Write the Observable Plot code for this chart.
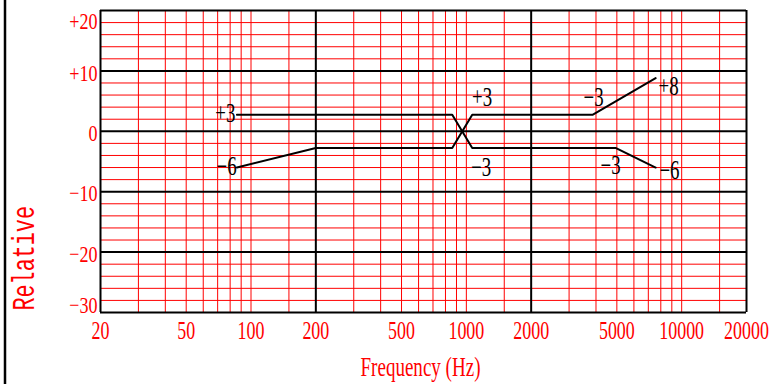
<!DOCTYPE html>
<html><head><meta charset="utf-8">
<script src="https://cdn.jsdelivr.net/npm/d3@7"></script>
<script src="https://cdn.jsdelivr.net/npm/@observablehq/plot@0.6"></script>
<style>body{margin:0;background:#fff}#chart svg{display:block;overflow:visible}</style>
</head><body><div id="chart"></div>
<script>
// grid values
const xMinorGrid = [30,40,50,60,70,80,90,100,150,300,400,500,600,700,800,900,1000,1500,3000,4000,5000,6000,7000,8000,9000,10000,15000];
const xMajorGrid = [20,200,2000,20000];
const xTicks = [20,50,100,200,500,1000,2000,5000,10000,20000];
const yMinorGrid = [18,16,14,12,8,6,4,2,-2,-4,-6,-8,-12,-14,-16,-18,-22,-24,-26,-28];
const yMajorGrid = [20,10,0,-10,-20,-30];
const yTicks = [20,10,0,-10,-20,-30];
// curves
const curveAFreq = [86, 860, 1065, 4930, 7570];
const curveADb = [2.75, 2.75, -2.75, -2.75, -6];
const curveBFreq = [86, 200, 860, 1065, 3870, 7570];
const curveBDb = [-6, -2.75, -2.75, 2.75, 2.75, 8.8];
// annotations
const noteText = ["+3","\u22126","+3","\u22123","\u22123","+8","\u22123","\u22126"];
const noteFreq = [76, 77, 1184, 1170, 3900, 8694, 4676, 8780];
const noteDb = [3, -5.75, 5.7, -5.9, 5.7, 7.4, -5.7, -6.4];
const xTitle = "Frequency (Hz)";
const yTitle = "Relative";

const curves = [
  ...curveAFreq.map((f,i)=>({series:"A", f, db: curveADb[i]})),
  ...curveBFreq.map((f,i)=>({series:"B", f, db: curveBDb[i]}))
];
const notes = noteText.map((t,i)=>({t, f: noteFreq[i], db: noteDb[i]}));
const fmtY = d => d > 0 ? "+" + d : d < 0 ? "\u2212" + Math.abs(d) : "0";
const yTop = d3.max(yTicks), yBottom = d3.min(yTicks);
const yLabelStyle = {y: d => d, frameAnchor: "left", textAnchor: "end", dx: -3, text: fmtY, fontSize: 24, fill: "red"};

const chart = Plot.plot({
  width: 778, height: 384,
  marginLeft: 100, marginRight: 32, marginTop: 10, marginBottom: 72,
  style: {color: "red", background: "white", fontFamily: "'Liberation Serif', serif"},
  x: {type: "log", domain: [20, 20000], axis: null},
  y: {domain: [-30, 20], axis: null},
  marks: [
    Plot.ruleX(xMinorGrid, {stroke: "red", strokeWidth: 1}),
    Plot.ruleY(yMinorGrid, {stroke: "red", strokeWidth: 1}),
    Plot.ruleX(xMajorGrid, {stroke: "black", strokeWidth: 2}),
    Plot.ruleY(yMajorGrid, {stroke: "black", strokeWidth: 2}),
    Plot.text(xTicks, {x: d => d, frameAnchor: "bottom", lineAnchor: "top", dy: 8, text: d => String(d), fontSize: 26, fill: "red"}),
    Plot.text(yTicks, {...yLabelStyle, filter: d => d !== yTop && d !== yBottom, dy: 2}),
    Plot.text(yTicks, {...yLabelStyle, filter: d => d === yTop, dy: 11}),
    Plot.text(yTicks, {...yLabelStyle, filter: d => d === yBottom, dy: -7}),
    Plot.line(curves, {x: "f", y: "db", z: "series", stroke: "black", strokeWidth: 2}),
    Plot.text(notes, {x: "f", y: "db", text: "t", fill: "black", fontSize: 27}),
    Plot.text([xTitle], {frameAnchor: "bottom", dx: -3, dy: 63, fontSize: 28, fill: "red"}),
    Plot.text([yTitle], {frameAnchor: "bottom-left", rotate: -90, textAnchor: "start", dx: -67, dy: -2, fontSize: 32, fill: "red", fontFamily: "'Liberation Mono', monospace"})
  ]
});
document.getElementById("chart").appendChild(chart);
const svg = d3.select(chart);
// condensed glyphs, factor by font size
const squeeze = {"26": 0.69, "24": 0.75, "27": 0.7, "28": 0.68, "32": 0.68};
svg.selectAll("text").each(function() {
  const el = this;
  const g = el.closest("[font-size]");
  const k = g ? (squeeze[g.getAttribute("font-size")] || 0.75) : 0.75;
  const len = el.getComputedTextLength();
  if (len > 0) {
    el.setAttribute("textLength", (len * k).toFixed(1));
    el.setAttribute("lengthAdjust", "spacingAndGlyphs");
  }
});
// left frame line
svg.append("line").attr("x1", 5).attr("x2", 5).attr("y1", 0).attr("y2", 384).attr("stroke", "black").attr("stroke-width", 2.5);
</script></body></html>
